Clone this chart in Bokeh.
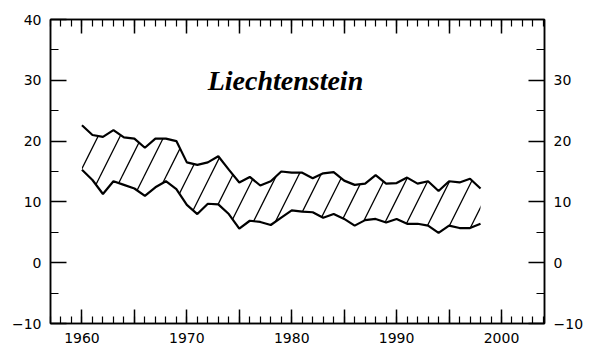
from bokeh.plotting import figure
from bokeh.models import Range1d, LinearAxis, FixedTicker
from bokeh.core.properties import value
from bokeh.embed import file_html
from bokeh.resources import INLINE

years = list(range(1960, 1999))
birth_rate = [22.6, 21.0, 20.7, 21.8, 20.6, 20.4, 18.9, 20.4, 20.4, 20.0,
              16.5, 16.1, 16.5, 17.5, 15.3, 13.2, 14.1, 12.7, 13.4, 15.0,
              14.8, 14.8, 13.9, 14.7, 14.9, 13.5, 12.8, 13.0, 14.4, 13.0,
              13.1, 14.0, 13.0, 13.4, 11.8, 13.4, 13.2, 13.8, 12.2]
death_rate = [15.3, 13.6, 11.3, 13.4, 12.8, 12.2, 11.0, 12.4, 13.4, 12.1,
              9.5, 8.0, 9.7, 9.6, 8.0, 5.6, 6.9, 6.7, 6.2, 7.4,
              8.6, 8.4, 8.3, 7.4, 8.0, 7.2, 6.1, 7.0, 7.2, 6.6,
              7.2, 6.4, 6.4, 6.1, 4.9, 6.1, 5.7, 5.7, 6.4]
title_text = "Liechtenstein"
x_labels = [1960, 1970, 1980, 1990, 2000]
left_ticks = [-10, 0, 10, 20, 30, 40]
right_ticks = [-10, 0, 10, 20, 30]

p = figure(width=589, height=354, output_backend="svg", toolbar_location=None,
           x_range=Range1d(1957, 2004.1), y_range=Range1d(-10, 40),
           x_axis_location=None, y_axis_location=None,
           min_border_left=50, min_border_right=45, min_border_top=19, min_border_bottom=31)
p.grid.visible = False
p.outline_line_color = "black"
p.outline_line_width = 1.5
p.background_fill_color = "white"
p.border_fill_color = "white"

# band between birth and death rate, hatched
p.varea(x=years, y1=death_rate, y2=birth_rate, fill_color="white", fill_alpha=0,
        hatch_pattern="/", hatch_color="black", hatch_weight=1.3, hatch_scale=44)
p.line(years, birth_rate, line_color="black", line_width=2.2)
p.line(years, death_rate, line_color="black", line_width=2.2)

p.text(x=[1979.4], y=[30], text=[title_text], text_font=value("Liberation Serif"),
       text_font_style="bold italic", text_font_size="28px", text_align="center",
       text_baseline="middle", text_color="black")

lbl_font = "DejaVu Sans"
fs = "14px"
year_major = list(range(1960, 2001, 5))
year_minor = list(range(1957, 2005))

def style(ax, tin, tmin):
    ax.axis_line_color = "black"
    ax.axis_line_width = 1.5
    ax.major_tick_in = tin
    ax.major_tick_out = 0
    ax.minor_tick_in = tmin
    ax.minor_tick_out = 0
    ax.major_tick_line_width = 1.5
    ax.minor_tick_line_width = 1.2
    ax.major_tick_line_color = "black"
    ax.minor_tick_line_color = "black"
    ax.major_label_text_font = lbl_font
    ax.major_label_text_font_size = fs
    ax.major_label_text_color = "black"

def hide_labels(ax):
    ax.major_label_text_color = None
    ax.major_label_text_font_size = "1px"
    ax.major_label_standoff = 0

bottom_ticks = LinearAxis(ticker=FixedTicker(ticks=year_major, minor_ticks=year_minor))
style(bottom_ticks, 14, 7)
hide_labels(bottom_ticks)
p.add_layout(bottom_ticks, "below")

bottom_labels = LinearAxis(ticker=FixedTicker(ticks=x_labels, minor_ticks=[]))
style(bottom_labels, 0, 0)
bottom_labels.axis_line_color = None
bottom_labels.major_tick_line_color = None
bottom_labels.minor_tick_line_color = None
bottom_labels.major_label_standoff = 9
p.add_layout(bottom_labels, "below")

top = LinearAxis(ticker=FixedTicker(ticks=year_major, minor_ticks=year_minor))
style(top, 14, 7)
hide_labels(top)
p.add_layout(top, "above")

left = LinearAxis(ticker=FixedTicker(ticks=left_ticks, minor_ticks=[-5, 5, 15, 25, 35]))
style(left, 16, 8)
left.major_label_standoff = 9
p.add_layout(left, "left")

right = LinearAxis(ticker=FixedTicker(ticks=right_ticks, minor_ticks=[-5, 5, 15, 25, 35]))
style(right, 16, 8)
right.major_label_standoff = 9
p.add_layout(right, "right")

open("out.html", "w").write(file_html(p, INLINE))
